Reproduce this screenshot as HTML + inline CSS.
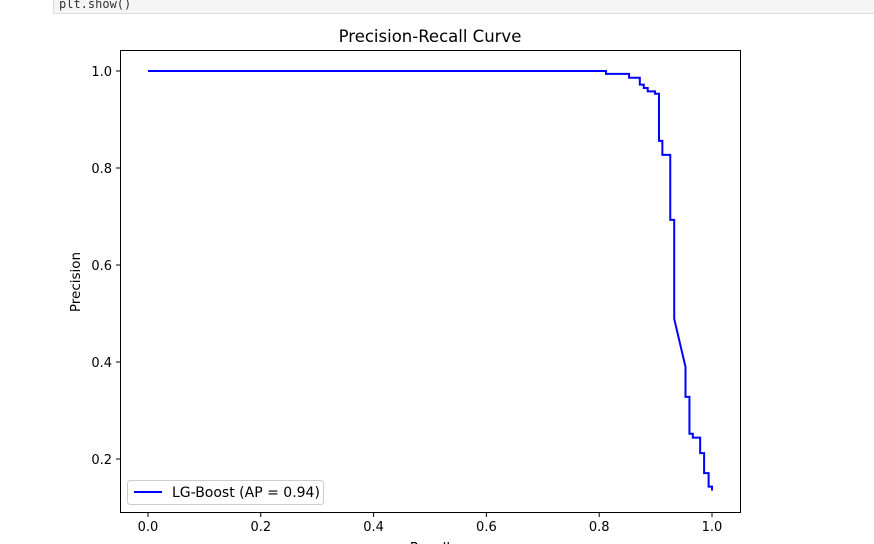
<!DOCTYPE html>
<html><head><meta charset="utf-8"><style>
body{margin:0;width:874px;height:544px;overflow:hidden;background:#fff;font-family:"DejaVu Sans",sans-serif;}
#code{position:absolute;left:53px;top:-6px;width:820px;height:18px;background:#f5f5f5;border:1px solid #dcdcdc;font-family:"DejaVu Sans Mono","Liberation Mono",monospace;font-size:12px;color:#333;}
#code span{position:absolute;left:5px;top:2px;}
svg text{font-family:"DejaVu Sans",sans-serif;}
</style></head><body>
<div id="code"><span>plt.show()</span></div>
<svg id="chart" width="874" height="544" style="position:absolute;left:0;top:0"></svg>
<script>
const recall=[0,0.812,0.812,0.853,0.853,0.872,0.872,0.879,0.879,0.886,0.886,0.899,0.899,0.906,0.906,0.912,0.912,0.926,0.926,0.933,0.933,0.953,0.953,0.960,0.960,0.966,0.966,0.979,0.979,0.986,0.986,0.994,0.994,1.0,1.0];
const precision=[1,1,0.994,0.994,0.986,0.986,0.972,0.972,0.965,0.965,0.958,0.958,0.953,0.953,0.856,0.856,0.827,0.827,0.693,0.693,0.489,0.390,0.328,0.328,0.252,0.252,0.244,0.244,0.212,0.212,0.171,0.171,0.143,0.143,0.135];
const xTicks=[0,0.2,0.4,0.6,0.8,1.0];
const xTickLabels=["0.0","0.2","0.4","0.6","0.8","1.0"];
const yTicks=[0.2,0.4,0.6,0.8,1.0];
const yTickLabels=["0.2","0.4","0.6","0.8","1.0"];
const NS="http://www.w3.org/2000/svg";
const svg=document.getElementById('chart');
const X=v=>148+564*v, Y=v=>71+(1-v)*485;
function mk(t,a,p){const e=document.createElementNS(NS,t);for(const k in a)e.setAttribute(k,a[k]);(p||svg).appendChild(e);return e;}
const frame=mk('rect',{x:120.5,y:50.5,width:620,height:462,fill:'none',stroke:'#000','stroke-width':1});


xTicks.forEach((v,i)=>{
 const l=mk('line',{x1:X(v),x2:X(v),y1:513,y2:517,stroke:'#000'});
 
 
 const t=mk('text',{x:X(v),y:531,'text-anchor':'middle','font-size':13,fill:'#000'});t.textContent=xTickLabels[i];
 
 
});
yTicks.forEach((v,i)=>{
 const l=mk('line',{x1:116,x2:120,y1:Y(v),y2:Y(v),stroke:'#000'});
 
 
 const t=mk('text',{x:112,y:Y(v)+5,'text-anchor':'end','font-size':13,fill:'#000'});t.textContent=yTickLabels[i];
 
 
});
const title=mk('text',{x:430,y:42,'text-anchor':'middle','font-size':16.5,fill:'#000'});title.textContent='Precision-Recall Curve';


const yl=mk('text',{x:0,y:0,'text-anchor':'middle','font-size':13.5,transform:'translate(80,282) rotate(-90)'});yl.textContent='Precision';


const xl=mk('text',{x:430,y:552,'text-anchor':'middle','font-size':13.5});xl.textContent='Recall';


const pts=recall.map((r,i)=>X(r)+','+Y(precision[i])).join(' ');
const line=mk('polyline',{points:pts,fill:'none',stroke:'#0000ff','stroke-width':2});


const lg=mk('g',{});


mk('rect',{x:127.5,y:480.5,width:196,height:24,rx:3,fill:'#fff',stroke:'#ccc'},lg);
mk('line',{x1:134,x2:162,y1:492,y2:492,stroke:'#0000ff','stroke-width':2},lg);
const lt=mk('text',{x:172,y:497,'font-size':14},lg);lt.textContent='LG-Boost (AP = 0.94)';


</script>
</body></html>
